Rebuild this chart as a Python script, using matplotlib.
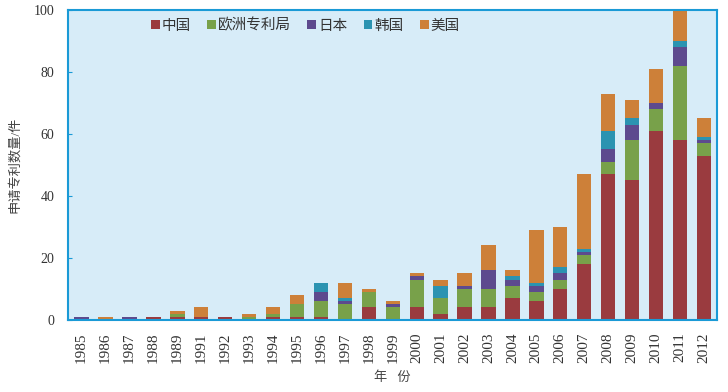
import numpy as np
import matplotlib
matplotlib.use("Agg")
from matplotlib import pyplot as plt
from matplotlib.patches import Patch

plt.rcParams['font.family'] = ['Liberation Serif', 'Noto Sans CJK SC', 'DejaVu Sans']

years = ['1985', '1986', '1987', '1988', '1989', '1991', '1992', '1993', '1994',
         '1995', '1996', '1997', '1998', '1999', '2000', '2001', '2002', '2003',
         '2004', '2005', '2006', '2007', '2008', '2009', '2010', '2011', '2012']

china = [0, 0, 0, 1, 1, 1, 1, 0, 1, 1, 1, 0, 4, 0, 4, 2, 4, 4, 7, 6, 10, 18, 47, 45, 61, 58, 53]
epo   = [0, 0, 0, 0, 1, 0, 0, 1, 1, 4, 5, 5, 5, 4, 9, 5, 6, 6, 4, 3, 3, 3, 4, 13, 7, 24, 4]
japan = [1, 0, 1, 0, 0, 0, 0, 0, 0, 0, 3, 1, 0, 1, 1, 0, 1, 6, 2, 2, 2, 1, 4, 5, 2, 6, 1]
korea = [0, 0, 0, 0, 0, 0, 0, 0, 0, 0, 3, 1, 0, 0, 0, 4, 0, 0, 1, 1, 2, 1, 6, 2, 0, 2, 1]
usa   = [0, 1, 0, 0, 1, 3, 0, 1, 2, 3, 0, 5, 1, 1, 1, 2, 4, 8, 2, 17, 13, 24, 12, 6, 11, 10, 6]

names = ['中国', '欧洲专利局', '日本', '韩国', '美国']
colors = ['#9a3b3f', '#78a14a', '#5d4a8e', '#2b93b1', '#cd8039']
series = [china, epo, japan, korea, usa]

fig = plt.figure(figsize=(7.28, 3.92), dpi=100)
ax = fig.add_axes([0.094, 0.184, 0.891, 0.791])
ax.set_facecolor('#d7ecf8')

x = np.arange(len(years))
bottom = np.zeros(len(years))
for vals, c in zip(series, colors):
    ax.bar(x, vals, bottom=bottom, width=0.6, color=c, zorder=2)
    bottom += np.array(vals)

ax.set_xlim(-0.55, len(years) - 0.45)
ax.set_ylim(0, 100)
ax.set_yticks([0, 20, 40, 60, 80, 100])
ax.set_xticks(x)
ax.set_xticklabels(years, rotation=90, fontsize=11, color='#333333')
ax.tick_params(axis='x', length=0, pad=9)
ax.tick_params(axis='y', direction='in', length=3, color='#1a9ad6', labelsize=10,
               labelcolor='#333333', pad=10)
for s in ax.spines.values():
    s.set_color('#1a9ad6')
    s.set_linewidth(1.5)

ax.set_xlabel('年   份', fontsize=9.5, color='#444444', labelpad=6)
ax.set_ylabel('申请专利数量/件', fontsize=9.5, color='#444444', labelpad=12)
ax.yaxis.set_label_coords(-0.073, 0.5)

handles = [Patch(facecolor=c) for c in colors]
ax.legend(handles, names, ncol=5, frameon=False, loc='upper left',
          bbox_to_anchor=(0.107, 1.015), fontsize=10.5, handlelength=0.6,
          handleheight=0.6, handletextpad=0.15, columnspacing=1.1,
          labelcolor='#333333')

fig.savefig('out.png', dpi=100, facecolor='white')
